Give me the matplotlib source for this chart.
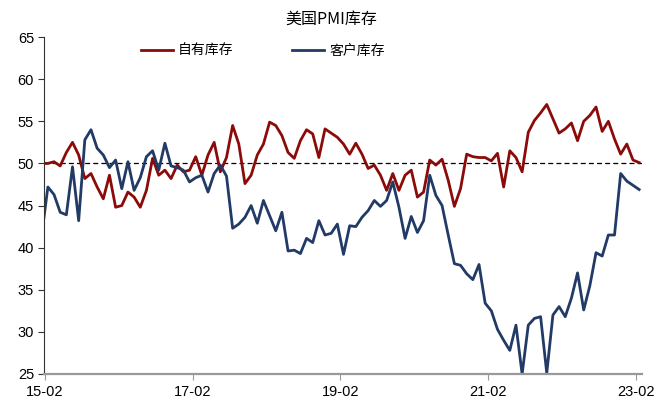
import matplotlib
matplotlib.use("Agg")
import matplotlib.pyplot as plt
import numpy as np

plt.rcParams['font.family'] = ['Liberation Sans', 'Noto Sans CJK SC', 'DejaVu Sans']

# monthly, 2015-01 .. 2023-02 (first month sits left of the axis and is clipped)
own_inv = [50.0,
           50.0, 50.2, 49.7, 51.3, 52.5, 51.0, 48.2, 48.8, 47.2, 45.8, 48.6, 44.8,
           45.0, 46.6, 46.0, 44.8, 46.8, 50.6, 48.6, 49.2, 48.2, 49.8, 49.0, 49.2,
           50.8, 48.6, 51.0, 52.5, 49.0, 50.7, 54.5, 52.3, 47.6, 48.6, 51.0, 52.3,
           54.9, 54.5, 53.3, 51.3, 50.6, 52.7, 54.0, 53.5, 50.7, 54.1, 53.6, 53.1,
           52.3, 51.1, 52.4, 51.1, 49.4, 49.8, 48.6, 46.8, 48.8, 46.8, 48.6, 49.2,
           46.0, 46.6, 50.4, 49.8, 50.5, 48.0, 44.9, 47.0, 51.1, 50.8, 50.7, 50.7,
           50.3, 51.2, 47.2, 51.5, 50.7, 49.0, 53.7, 55.1, 56.0, 57.0, 55.3, 53.6,
           54.1, 54.8, 52.7, 55.0, 55.7, 56.7, 53.8, 55.0, 52.9, 51.1, 52.3, 50.4,
           50.1]
cust_inv = [41.5,
            47.2, 46.3, 44.2, 43.9, 49.6, 43.2, 52.8, 54.0, 51.8, 51.0, 49.5, 50.4,
            47.0, 50.2, 46.8, 48.3, 50.8, 51.5, 49.2, 52.4, 49.7, 49.5, 49.2, 47.8,
            48.3, 48.6, 46.6, 48.8, 49.8, 48.5, 42.3, 42.8, 43.6, 45.0, 42.9, 45.6,
            43.8, 42.0, 44.2, 39.6, 39.7, 39.3, 41.1, 40.6, 43.2, 41.5, 41.7, 42.8,
            39.2, 42.6, 42.5, 43.6, 44.4, 45.6, 44.9, 45.6, 47.8, 44.8, 41.1, 43.7,
            41.8, 43.2, 48.6, 46.2, 45.0, 41.5, 38.1, 37.9, 36.9, 36.2, 38.0, 33.4,
            32.5, 30.3, 29.0, 27.8, 30.8, 25.0, 30.8, 31.6, 31.8, 25.1, 32.0, 33.0,
            31.8, 34.0, 37.0, 32.6, 35.5, 39.4, 39.0, 41.5, 41.5, 48.8, 47.9, 47.4,
            46.9]
tick_labels = ["15-02", "17-02", "19-02", "21-02", "23-02"]

RED = "#8B0A0A"
BLUE = "#213A66"

x = np.arange(-1, len(own_inv) - 1)

fig = plt.figure(figsize=(6.62, 4.03), dpi=100)
ax = fig.add_axes([0.0672, 0.072, 0.902, 0.836])

ax.plot(x, own_inv, color=RED, lw=2.0, label="自有库存", solid_joinstyle="round")
ax.plot(x, cust_inv, color=BLUE, lw=2.0, label="客户库存", solid_joinstyle="round")
ax.axhline(50, color="black", lw=0.9, ls=(0, (4, 2.5)), zorder=1)

ax.set_xlim(-0.55, 96.4)
ax.set_ylim(25, 65)
ax.set_yticks(range(25, 66, 5))
ax.set_xticks([-0.5, 23.5, 47.5, 71.5, 95.5])
ax.set_xticklabels(tick_labels)

for s in ["top", "right"]:
    ax.spines[s].set_visible(False)
ax.spines["left"].set_color("#333333")
ax.spines["bottom"].set_color("#999999")
ax.spines["bottom"].set_linewidth(1.6)
ax.tick_params(axis="y", direction="out", length=4, color="#333333", labelsize=10.5)
ax.tick_params(axis="x", direction="out", length=4, color="#999999", labelsize=10.5, pad=4)

fig.text(0.5, 0.952, "美国PMI库存", ha="center", va="center", fontsize=11.5,
         family=["Noto Sans CJK SC", "DejaVu Sans"])
leg = fig.legend(loc="center", bbox_to_anchor=(0.397, 0.873), ncol=2, frameon=False,
                 handlelength=2.3, columnspacing=4.2, handletextpad=0.4,
                 prop={"family": "Noto Sans CJK SC", "size": 10})

fig.savefig("out.png", dpi=100)
